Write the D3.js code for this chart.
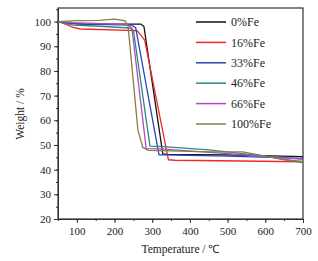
<!DOCTYPE html>
<html>
<head>
<meta charset="utf-8">
<script src="https://cdn.jsdelivr.net/npm/d3@7"></script>
<style>
  body { margin: 0; background: #fff; }
  text { font-family: "Liberation Serif", "Times New Roman", serif; fill: #222; }
</style>
</head>
<body>
<div id="chart"></div>
<script>
// series names and colours
var names = ["0%Fe", "16%Fe", "33%Fe", "46%Fe", "66%Fe", "100%Fe"];
var colors = ["#111111", "#f02828", "#2a44b8", "#2a8a80", "#b548c0", "#858040"];

// temperature / weight pairs
var fe0   = [[50,100],[80,99.4],[110,99],[270,99],[278,98],[328,46.4],[340,46.2],[500,46],[700,45.3]];
var fe16  = [[50,100],[70,99],[90,97.6],[110,97],[260,96.3],[272,94],[280,92.5],[343,44],[360,43.8],[700,43.2]];
var fe33  = [[50,100],[90,99.2],[120,99],[245,98.6],[256,97.5],[318,46],[330,46],[500,45.5],[700,44.6]];
var fe46  = [[50,100],[90,98.6],[150,98.2],[240,97.4],[250,96.5],[294,49.5],[320,49.4],[450,48],[600,45.5],[700,42.8]];
var fe66  = [[50,100],[90,99.6],[150,99.3],[235,98.8],[246,97.5],[284,48.5],[320,48.4],[500,46.5],[700,44.2]];
var fe100 = [[50,100],[100,100.4],[160,100.5],[200,101],[228,100.3],[236,98],[262,56],[275,49],[290,47.8],[350,47.6],[450,47.2],[540,47.2],[600,45.5],[650,44],[700,43.3]];

var series = [fe0, fe16, fe33, fe46, fe66, fe100];

var xTicks = [100, 200, 300, 400, 500, 600, 700];
var yTicks = [20, 30, 40, 50, 60, 70, 80, 90, 100];

var W = 318, H = 261;
var m = {top: 8, right: 15, bottom: 42, left: 58};
var w = W - m.left - m.right,
    h = H - m.top - m.bottom;

var svg = d3.select("#chart").append("svg")
    .attr("width", W)
    .attr("height", H);

var g = svg.append("g")
    .attr("transform", "translate(" + m.left + "," + m.top + ")");

var x = d3.scaleLinear().domain([50, 700]).range([0, w]);
var y = d3.scaleLinear().domain([20, 105.5]).range([h, 0]);

// minor ticks
g.append("g")
  .attr("transform", "translate(0," + h + ")")
  .call(d3.axisBottom(x).tickValues(d3.range(50, 701, 50)).tickSize(2).tickFormat(""))
  .call(function(a) { a.select(".domain").remove(); });
g.append("g")
  .call(d3.axisLeft(y).tickValues(d3.range(20, 106, 5)).tickSize(2).tickFormat(""))
  .call(function(a) { a.select(".domain").remove(); });

var xAxis = g.append("g")
  .attr("transform", "translate(0," + h + ")")
  .call(d3.axisBottom(x).tickValues(xTicks).tickSize(4).tickPadding(4).tickSizeOuter(0));
var yAxis = g.append("g")
  .call(d3.axisLeft(y).tickValues(yTicks).tickSize(4).tickPadding(3).tickSizeOuter(0));

[xAxis, yAxis].forEach(function(a) {
  a.selectAll("text").style("font-family", "Liberation Serif").style("font-size", "11px").attr("fill", "#222");
  a.selectAll("line, path").attr("stroke", "#333");
});
g.selectAll(".tick line").attr("stroke", "#333");

// frame
g.append("rect")
  .attr("width", w)
  .attr("height", h)
  .attr("fill", "none")
  .attr("stroke", "#333")
  .attr("stroke-width", 1.2);

svg.append("defs").append("clipPath").attr("id", "clip")
  .append("rect").attr("width", w).attr("height", h);

var line = d3.line()
  .x(function(d) { return x(d[0]); })
  .y(function(d) { return y(d[1]); });

var lines = g.append("g").attr("clip-path", "url(#clip)");
series.forEach(function(s, i) {
  lines.append("path")
    .datum(s)
    .attr("d", line)
    .attr("fill", "none")
    .attr("stroke", colors[i])
    .attr("stroke-width", 1.3);
});

// legend
var legend = g.append("g").attr("transform", "translate(138,14)");
names.forEach(function(n, i) {
  var row = legend.append("g").attr("transform", "translate(0," + (i * 20.4) + ")");
  row.append("line")
    .attr("x1", 0).attr("x2", 30)
    .attr("stroke", colors[i])
    .attr("stroke-width", 1.5);
  row.append("text")
    .attr("x", 35)
    .attr("dy", "0.35em")
    .style("font-size", "12px")
    .text(n);
});

// axis titles
svg.append("text")
  .attr("x", m.left + w / 2)
  .attr("y", H - 8)
  .attr("text-anchor", "middle")
  .style("font-size", "11.5px")
  .text("Temperature / \u2103");

svg.append("text")
  .attr("transform", "translate(24,114) rotate(-90)")
  .attr("text-anchor", "middle")
  .style("font-size", "11.5px")
  .text("Weight / %");
</script>
</body>
</html>
